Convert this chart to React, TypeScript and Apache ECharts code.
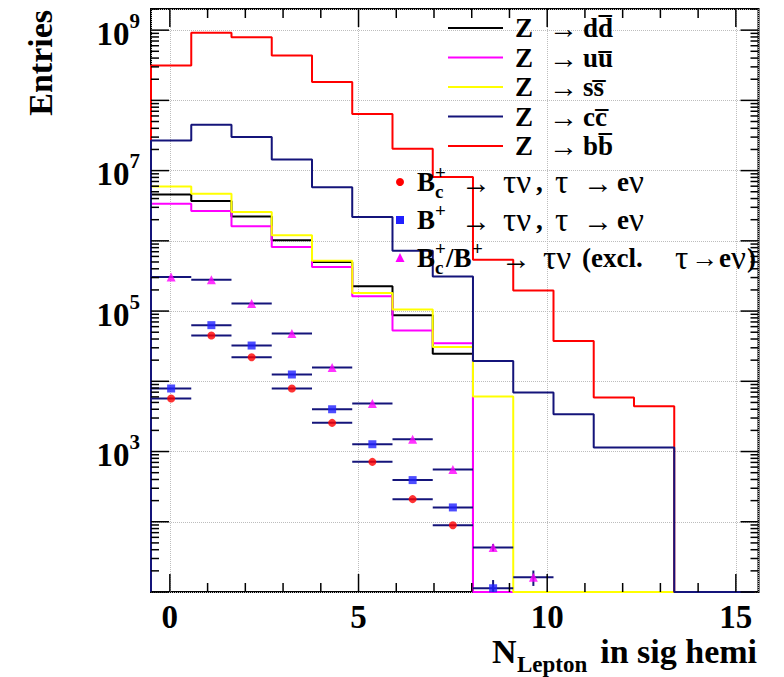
import React, { useEffect, useRef } from 'react';
import * as echarts from 'echarts';

// ---------- data ----------
const binEdges = [-0.5, 0.567, 1.633, 2.7, 3.767, 4.833, 5.9, 6.967, 8.033, 9.1, 10.167, 11.233, 12.3, 13.367, 14.433, 15.5];

const zToDD = [4.58e6, 3.68e6, 2.23e6, 1.02e6, 4.99e5, 2.25e5, 8.7e4, 2.47e4, 0, 0, 0, 0, 0, 0, 0];
const zToUU = [3.38e6, 2.66e6, 1.61e6, 8.2e5, 4.24e5, 1.62e5, 5.3e4, 3.48e4, 0, 0, 0, 0, 0, 0, 0];
const zToSS = [5.96e6, 4.69e6, 2.57e6, 1.2e6, 5.2e5, 1.81e5, 1.05e5, 3.08e4, 6.1e3, 0, 0, 0, 0, 0, 0];
const zToCC = [2.69e7, 4.5e7, 3.0e7, 1.44e7, 5.8e6, 2.18e6, 7.2e5, 3.1e5, 1.95e4, 6.9e3, 3.4e3, 1.14e3, 1.14e3, 0, 0];
const zToBB = [3.13e8, 9.2e8, 7.9e8, 4.35e8, 1.82e8, 6.4e7, 2.05e7, 8.1e6, 5.4e5, 1.97e5, 3.76e4, 5.9e3, 4.4e3, 0, 0];

const bcToTauNuE = [5.7e3, 4.49e4, 2.2e4, 7.9e3, 2.56e3, 713, 210, 89, 0, 0, 0, 0, 0, 0, 0];
const bcToTauNuEErr = [0, 0, 0, 0, 0, 0, 0, 0, 0, 0, 0, 0, 0, 0, 0];
const bToTauNuE = [7.9e3, 6.3e4, 3.23e4, 1.25e4, 4.0e3, 1.27e3, 392, 160, 11.3, 0, 0, 0, 0, 0, 0];
const bToTauNuEErr = [0, 0, 0, 0, 0, 0, 0, 0, 3.5, 0, 0, 0, 0, 0, 0];
const bcbToTauNuOther = [3.05e5, 2.8e5, 1.28e5, 4.79e4, 1.57e4, 4.83e3, 1.49e3, 556, 43, 16.2, 0, 0, 0, 0, 0];
const bcbToTauNuOtherErr = [0, 0, 0, 0, 0, 0, 0, 0, 5, 4, 0, 0, 0, 0, 0];

const histQuarks = ['d', 'u', 's', 'c', 'b'];
const histColors = ['#000000', '#ff00ff', '#ffff00', '#14147a', '#ff0000'];
// drawing order (ROOT draws c-cbar last)
const histZ = [3.0, 3.01, 3.02, 3.04, 3.03];

const xTickLabels = [0, 5, 10, 15];
const yLabelExponents = [3, 5, 7, 9];

const X_MIN = -0.5;
const X_MAX = 15.6;
const Y_MIN = 10;
const Y_MAX = 2e9;

const FONT = "'Liberation Serif', 'DejaVu Serif', serif";
const NAVY = '#14147a';

// ---------- helpers ----------
function histData(vals: number[]) {
  const pts: number[][] = [[binEdges[0], Y_MIN]];
  vals.forEach((v, i) => pts.push([binEdges[i], v > 0 ? v : Y_MIN]));
  const last = vals[vals.length - 1];
  pts.push([binEdges[vals.length], last > 0 ? last : Y_MIN]);
  pts.push([binEdges[vals.length], Y_MIN]);
  return pts;
}

function center(i: number) {
  return (binEdges[i] + binEdges[i + 1]) / 2;
}

function pointData(vals: number[]) {
  const out: number[][] = [];
  vals.forEach((v, i) => {
    if (v > 0) out.push([center(i), v]);
  });
  return out;
}

function errData(vals: number[], errs: number[]) {
  const out: number[][] = [];
  vals.forEach((v, i) => {
    if (v > 0) out.push([center(i), v, binEdges[i], binEdges[i + 1], errs[i] || 0]);
  });
  return out;
}

function txt(x: number, y: number, text: string, size: number, bold: boolean, extra: any = {}) {
  return {
    type: 'text',
    x,
    y,
    silent: true,
    z: 100,
    style: {
      text,
      fontSize: size,
      fontWeight: bold ? 'bold' : 'normal',
      fontFamily: FONT,
      fill: '#000',
      align: 'left',
      verticalAlign: 'middle',
      ...extra,
    },
  };
}

export default function App() {
  const ref = useRef<HTMLDivElement>(null);

  useEffect(() => {
    if (!ref.current) return;
    const chart = echarts.init(ref.current, undefined, { renderer: 'svg' });

    // ticks
    const xTickData: number[][] = [];
    for (let v = 0; v <= 15; v++) xTickData.push([v, Y_MIN, v % 5 === 0 ? 18 : 9]);
    const yTickData: number[][] = [];
    for (let e = 1; e <= 9; e++) {
      for (let k = 1; k <= 9; k++) {
        const v = k * Math.pow(10, e);
        if (v >= Y_MIN && v <= Y_MAX) yTickData.push([X_MIN, v, k === 1 ? 18 : 8]);
      }
    }

    const histSeries = [zToDD, zToUU, zToSS, zToCC, zToBB].map((vals, i) => ({
      type: 'line',
      name: 'Z -> ' + histQuarks[i],
      data: histData(vals),
      step: 'end',
      showSymbol: false,
      symbol: 'none',
      clip: true,
      z: histZ[i],
      lineStyle: { color: histColors[i], width: 2 },
      itemStyle: { color: histColors[i] },
      silent: true,
    }));

    const errSeries = (vals: number[], errs: number[]) => ({
      type: 'custom',
      data: errData(vals, errs),
      clip: true,
      silent: true,
      z: 5,
      renderItem: (params: any, api: any) => {
        const c = api.value(0);
        const v = api.value(1);
        const lo = api.value(2);
        const hi = api.value(3);
        const e = api.value(4);
        const p = api.coord([c, v]);
        const l = api.coord([lo, v]);
        const r = api.coord([hi, v]);
        const children: any[] = [
          { type: 'line', shape: { x1: l[0], y1: l[1], x2: r[0], y2: r[1] }, style: { stroke: NAVY, lineWidth: 2 } },
        ];
        if (e > 0) {
          const t = api.coord([c, v + e]);
          const b = api.coord([c, Math.max(v - e, Y_MIN)]);
          children.push({ type: 'line', shape: { x1: p[0], y1: t[1], x2: p[0], y2: b[1] }, style: { stroke: NAVY, lineWidth: 2 } });
        }
        return { type: 'group', children };
      },
    });

    const scatter = (vals: number[], symbol: string, size: number, color: string) => ({
      type: 'scatter',
      data: pointData(vals),
      symbol,
      symbolSize: size,
      itemStyle: { color },
      z: 6,
      silent: true,
      clip: false,
    });

    const tickStyle = { stroke: '#000', lineWidth: 1.5 };

    const GK = 33; // greek / symbol size
    const graphics: any[] = [];
    // legend block 1
    histQuarks.forEach((q, i) => {
      const y = 28 + 29.5 * i;
      graphics.push({ type: 'line', silent: true, z: 100, shape: { x1: 448, y1: y, x2: 503, y2: y }, style: { stroke: histColors[i], lineWidth: 2 } });
      graphics.push(txt(515, y, 'Z', 27, true));
      graphics.push(txt(549, y, '\u2192', 29, false));
      graphics.push(txt(583, y, q + q + '\u0305', 27, true));
    });
    // legend block 2
    const r1 = 182, r2 = 220, r3 = 258;
    graphics.push({ type: 'circle', silent: true, z: 100, shape: { cx: 400, cy: r1, r: 4 }, style: { fill: '#ff0000' } });
    graphics.push({ type: 'rect', silent: true, z: 100, shape: { x: 396, y: r2 - 4, width: 8, height: 8 }, style: { fill: '#2020ff' } });
    graphics.push({ type: 'polygon', silent: true, z: 100, shape: { points: [[400, r3 - 5], [404.5, r3 + 4], [395.5, r3 + 4]] }, style: { fill: '#ff00ff' } });
    const tail = (y: number) => [
      txt(461, y, '\u2192', 30, false),
      txt(503, y, '\u03c4\u03bd', GK, false),
      txt(536, y, ',', 27, true),
      txt(555, y, '\u03c4', GK, false),
      txt(583, y, '\u2192', 30, false),
      txt(617, y, 'e', 27, true),
      txt(629, y, '\u03bd', GK, false),
    ];
    graphics.push(txt(417, r1, 'B', 27, true), txt(435, r1 - 10, '+', 19, true), txt(435, r1 + 9, 'c', 19, true), ...tail(r1));
    graphics.push(txt(417, r2, 'B', 27, true), txt(435, r2 - 10, '+', 19, true), ...tail(r2));
    graphics.push(
      txt(417, r3, 'B', 27, true),
      txt(435, r3 - 10, '+', 19, true),
      txt(435, r3 + 9, 'c', 19, true),
      txt(446, r3, '/B', 27, true),
      txt(472, r3 - 10, '+', 19, true),
      txt(501, r3, '\u2192', 30, false),
      txt(543, r3, '\u03c4\u03bd', GK, false),
      txt(582, r3, '(excl.', 27, true),
      txt(675, r3, '\u03c4', GK, false),
      txt(691, r3, '\u2192', 27, false),
      txt(719, r3, 'e', 27, true),
      txt(731, r3, '\u03bd', GK, false),
      txt(747, r3, ')', 27, true),
    );
    // axis titles
    graphics.push(txt(40, 10, 'Entries', 34, true, { align: 'right' }));
    graphics[graphics.length - 1].rotation = Math.PI / 2;
    graphics.push(txt(492, 651, 'N', 34, true, { lineHeight: 26 }));
    graphics.push(txt(517, 664.5, 'Lepton', 23, true, { lineHeight: 18 }));
    graphics.push(txt(757, 651, 'in sig hemi', 34, true, { align: 'right', lineHeight: 26 }));

    const option: any = {
      animation: false,
      backgroundColor: '#ffffff',
      grid: {
        left: 151,
        top: 9,
        width: 607.5,
        height: 583,
        show: true,
        borderColor: '#000',
        borderWidth: 2,
        backgroundColor: 'transparent',
        containLabel: false,
      },
      xAxis: {
        type: 'value',
        min: X_MIN,
        max: X_MAX,
        splitNumber: 3,
        minInterval: 5,
        maxInterval: 5,
        axisLine: { show: false },
        axisTick: { show: false },
        splitLine: { show: true, lineStyle: { type: 'dotted', color: '#bdbdbd', width: 1 } },
        axisLabel: {
          margin: 13,
          fontSize: 33,
          lineHeight: 24,
          fontWeight: 'bold',
          fontFamily: FONT,
          color: '#000',
          formatter: (v: number) => (xTickLabels.includes(Math.round(v * 1000) / 1000) ? String(Math.round(v)) : ''),
        },
      },
      yAxis: {
        type: 'log',
        logBase: 10,
        min: Y_MIN,
        max: Y_MAX,
        axisLine: { show: false },
        axisTick: { show: false },
        splitLine: { show: true, lineStyle: { type: 'dotted', color: '#bdbdbd', width: 1 } },
        axisLabel: {
          margin: 11,
          formatter: (v: number) => {
            const lg = Math.log10(v);
            const e = Math.round(lg);
            if (Math.abs(lg - e) > 1e-6 || !yLabelExponents.includes(e)) return '';
            return '{b|10}{s|' + e + '}';
          },
          rich: {
            b: { fontSize: 33, fontWeight: 'bold', fontFamily: FONT, color: '#000', lineHeight: 40, verticalAlign: 'bottom' },
            s: { fontSize: 21, fontWeight: 'bold', fontFamily: FONT, color: '#000', lineHeight: 21, verticalAlign: 'top' },
          },
        },
      },
      series: [
        ...histSeries,
        errSeries(bcbToTauNuOther, bcbToTauNuOtherErr),
        errSeries(bToTauNuE, bToTauNuEErr),
        errSeries(bcToTauNuE, bcToTauNuEErr),
        scatter(bcbToTauNuOther, 'triangle', 9, '#ff00ff'),
        scatter(bToTauNuE, 'rect', 8, '#2020ff'),
        scatter(bcToTauNuE, 'circle', 8, '#ff0000'),
        {
          type: 'custom',
          data: xTickData,
          silent: true,
          z: 8,
          renderItem: (params: any, api: any) => {
            const cs = params.coordSys;
            const px = api.coord([api.value(0), Y_MIN])[0];
            const len = api.value(2);
            const bottom = cs.y + cs.height;
            const top = cs.y;
            return {
              type: 'group',
              children: [
                { type: 'line', shape: { x1: px, y1: bottom, x2: px, y2: bottom - len }, style: tickStyle },
                { type: 'line', shape: { x1: px, y1: top, x2: px, y2: top + len }, style: tickStyle },
              ],
            };
          },
        },
        {
          type: 'custom',
          data: yTickData,
          silent: true,
          z: 8,
          renderItem: (params: any, api: any) => {
            const cs = params.coordSys;
            const py = api.coord([X_MIN, api.value(1)])[1];
            const len = api.value(2);
            const left = cs.x;
            const right = cs.x + cs.width;
            return {
              type: 'group',
              children: [
                { type: 'line', shape: { x1: left, y1: py, x2: left + len, y2: py }, style: tickStyle },
                { type: 'line', shape: { x1: right, y1: py, x2: right - len, y2: py }, style: tickStyle },
              ],
            };
          },
        },
      ],
      graphic: graphics,
    };

    chart.setOption(option);
    return () => chart.dispose();
  }, []);

  return <div ref={ref} style={{ position: 'fixed', left: 0, top: 0, width: 784, height: 677, background: '#fff' }} />;
}
